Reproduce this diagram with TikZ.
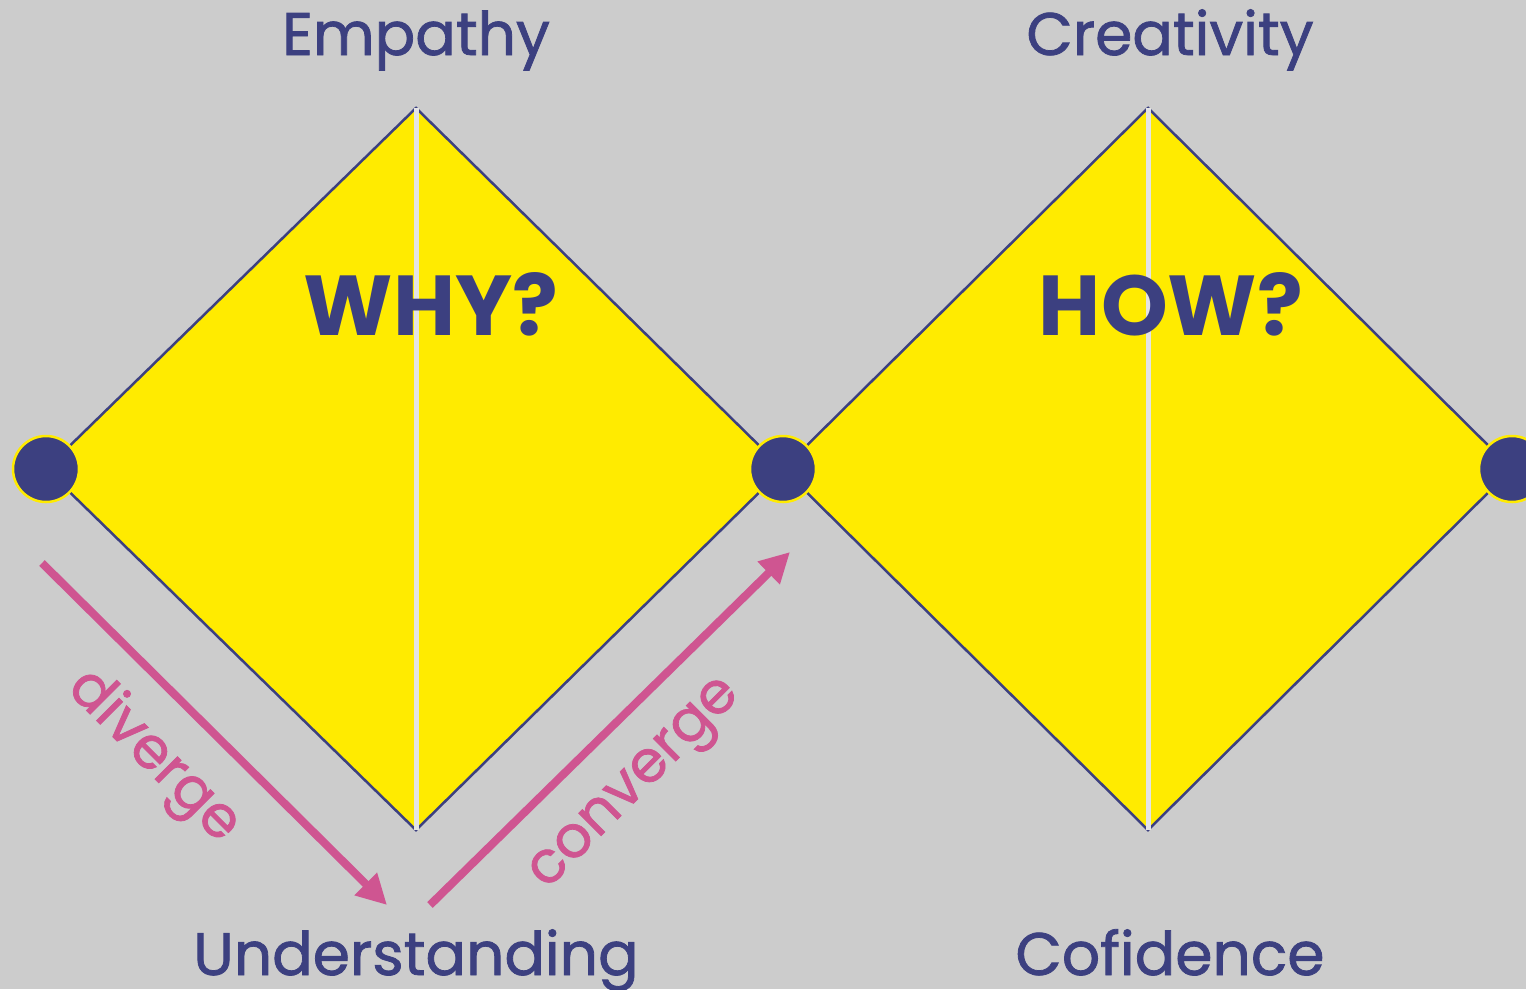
\documentclass[tikz,border=0pt]{standalone}
\usepackage{fontspec}
\setmainfont{Poppins}
\newfontfamily\medfont{Poppins}[FakeBold=1.3]
\usetikzlibrary{positioning,arrows.meta}

\definecolor{bgGrey}{HTML}{CCCCCC}
\definecolor{ddYellow}{HTML}{FFEB00}
\definecolor{ddNavy}{HTML}{3C4080}
\definecolor{ddPink}{HTML}{CF5591}
\definecolor{splitGrey}{HTML}{E4E4E4}

\tikzset{
  heading/.style={text=ddNavy, font=\medfont\fontsize{60}{64}\selectfont, anchor=base, inner sep=0pt},
  question/.style={text=ddNavy, font=\fontsize{85}{88}\selectfont\bfseries, anchor=base, inner sep=0pt},
  flowlabel/.style={text=ddPink, font=\medfont\fontsize{58}{62}\selectfont, inner sep=0pt},
  flow/.style={ddPink, line width=8pt, -{Triangle[length=30pt,width=30pt]}},
  diamondface/.style={fill=ddYellow, draw=ddNavy, line width=2.5pt, line join=miter},
  split/.style={splitGrey, line width=5pt},
  joint/.style={circle, fill=ddNavy, draw=ddYellow, line width=2.5pt, minimum size=66pt, inner sep=0pt}
}

\begin{document}
\begin{tikzpicture}[x=1pt,y=-1pt]

\fill[bgGrey] (0,0) rectangle (1526,989);
\useasboundingbox (0,0) rectangle (1526,989);

% corner points of the two diamonds
\coordinate (w1) at (46,469);
\coordinate (n1) at (416,108);
\coordinate (s1) at (416,830);
\coordinate (w2) at (783,469);
\coordinate (n2) at (1148,108);
\coordinate (s2) at (1148,830);
\coordinate (e2) at (1512,469);

\draw[diamondface] (w1) -- (n1) -- (w2) -- (s1) -- cycle;
\draw[diamondface] (w2) -- (n2) -- (e2) -- (s2) -- cycle;

\draw[split] (n1) -- (s1);
\draw[split] (n2) -- (s2);

\node[joint] (start) at (w1) {};
\node[joint] (middle) at (w2) {};
\node[joint] (finish) at (e2) {};

\node[heading] (empathy) at (416,55) {Empathy};
\node[heading] (creativity) at (1170,55) {Creativity};
\node[heading] (understanding) at (416,975) {Understanding};
\node[heading] (confidence) at (1170,975) {Cofidence};

\node[question] (why) at (431,335) {WHY?};
\node[question] (how) at (1171,335) {HOW?};

% diverge / converge arrows
\coordinate (divA) at (42,563);
\coordinate (divB) at (387,905);
\coordinate (conA) at (430,905);
\coordinate (conB) at (790,552);

\draw[flow] (divA) -- (divB);
\draw[flow] (conA) -- (conB);

\node[flowlabel, rotate=-45] (diverge) at (153,757) {diverge};
\node[flowlabel, rotate=45] (converge) at (638,787) {converge};

\end{tikzpicture}
\end{document}
